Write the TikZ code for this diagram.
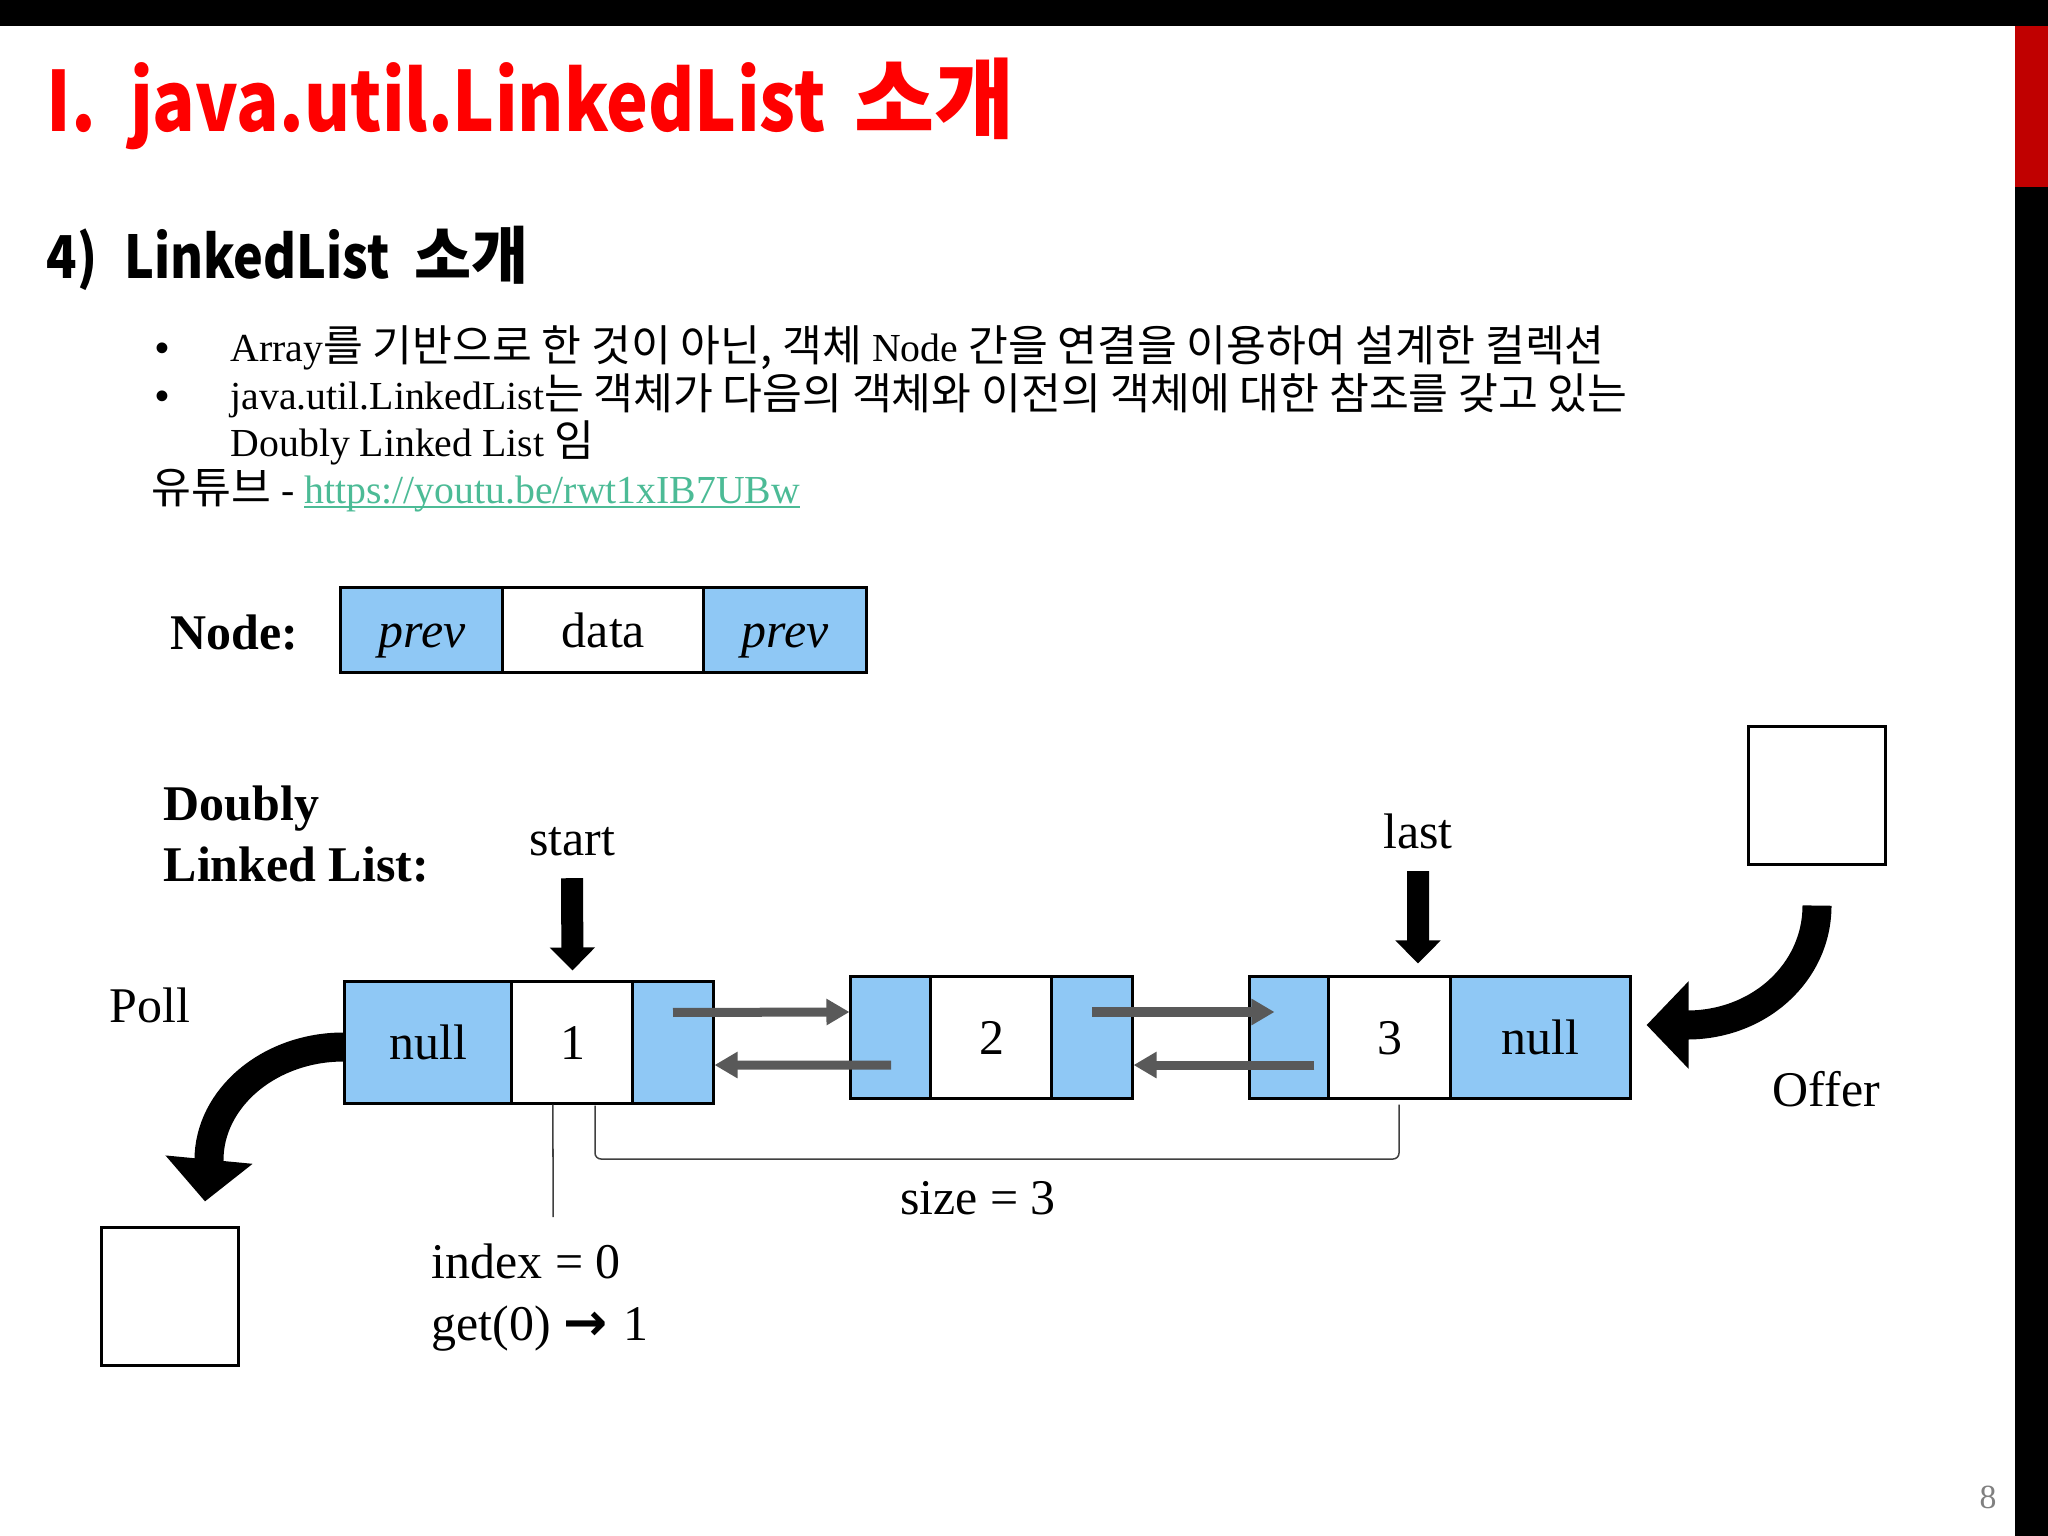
\documentclass[tikz,border=0pt]{standalone}
\usepackage{fontspec}
\setmainfont{Liberation Serif}
\newfontfamily\kr[Scale=1.09]{Noto Sans CJK KR}
\newfontfamily\krt[FakeStretch=0.85]{Noto Sans CJK KR}
\newfontfamily\krh[Scale=1.05]{Noto Sans CJK KR}
\newfontfamily\arr{DejaVu Sans}
\newfontfamily\bulf{Liberation Sans}
\usetikzlibrary{arrows.meta}
\definecolor{nblue}{RGB}{143,200,245}
\definecolor{garr}{RGB}{89,89,89}
\definecolor{titlered}{RGB}{255,0,0}
\definecolor{barred}{RGB}{192,0,0}
\definecolor{linkc}{RGB}{76,187,150}
\definecolor{pgnum}{RGB}{128,128,128}
\newcommand\ulink[1]{\setbox0\hbox{#1}\rlap{\rule[-1.5pt]{\wd0}{0.7pt}}\box0}
\begin{document}
\begin{tikzpicture}[x=0.01cm,y=-0.01cm,
  cell/.style={draw=black, line width=0.3mm, inner sep=0pt, minimum height=1.21cm,
    text height=0.34cm, text depth=0pt, font=\fontsize{14.2}{17}\selectfont},
  bcell/.style={cell, fill=nblue},
  wcell/.style={cell, fill=white},
  emptybox/.style={draw=black, line width=0.3mm, fill=white, inner sep=0pt, minimum width=1.37cm, minimum height=1.37cm},
  lbl/.style={inner sep=0pt, anchor=base west, font=\fontsize{14.2}{17}\selectfont},
  clbl/.style={lbl, anchor=base},
  body/.style={inner sep=0pt, anchor=base west, font=\fontsize{11.3}{13.5}\selectfont},
  garrow/.style={draw=garr, line width=0.9mm, -{Triangle[length=2.3mm,width=2.5mm]}},
  blkarrow/.style={draw=black, line width=2.2mm, -{Triangle[length=2.3mm,width=4.4mm]}},
  curvarrow/.style={draw=black, line width=2.9mm, -{Triangle[length=4.2mm,width=8.5mm]}},
  thinline/.style={draw=black!75, line width=0.15mm}
]
\useasboundingbox (0,0) rectangle (2048,1536);
\fill[white] (0,0) rectangle (2048,1536);
% slide frame
\fill[black] (0,0) rectangle (2048,26);
\fill[barred] (2015,26) rectangle (2048,187);
\fill[black] (2015,187) rectangle (2048,1536);

% titles
\node[inner sep=0pt, anchor=base west, text=titlered, font=\krt\bfseries\fontsize{23.6}{28}\selectfont] (title) at (46,131)
  {I.\hspace{3.4mm}java.util.LinkedList \hspace{1.3mm}{\krh\bfseries 소개}};
\node[inner sep=0pt, anchor=base west, font=\krt\bfseries\fontsize{16.8}{20}\selectfont] (subtitle) at (46,278)
  {4)\hspace{2.7mm}LinkedList \hspace{1.3mm}{\krh\bfseries 소개}};

% bullets
\node[body, font=\bulf\fontsize{11.3}{13.5}\selectfont] (b1) at (155,361) {•};
\node[body] (t1) at (230,361) {Array{\kr 를 기반으로 한 것이 아닌,} {\kr 객체} Node {\kr 간을 연결을 이용하여 설계한 컬렉션}};
\node[body, font=\bulf\fontsize{11.3}{13.5}\selectfont] (b2) at (155,409) {•};
\node[body] (t2) at (230,409) {java.util.LinkedList{\kr 는 객체가 다음의 객체와 이전의 객체에 대한 참조를 갖고 있는}};
\node[body] (t3) at (230,456) {Doubly Linked List {\kr 임}};
\node[body] (t4) at (151,503) {{\kr 유튜브} - \textcolor{linkc}{\ulink{https://youtu.be/rwt1xIB7UBw}}};

% node structure
\node[lbl, font=\bfseries\fontsize{14.2}{17}\selectfont] (nodelbl) at (170,649) {Node:};
\node[bcell, minimum width=1.62cm, minimum height=0.84cm] (p1) at (422,630) {\itshape prev};
\node[wcell, minimum width=2.01cm, minimum height=0.84cm] (p2) at (603.5,630) {data};
\node[bcell, minimum width=1.62cm, minimum height=0.84cm] (p3) at (785,630) {\itshape prev};

% doubly linked list label
\node[lbl, font=\bfseries\fontsize{14.2}{17}\selectfont] (dl1) at (163,820) {Doubly};
\node[lbl, font=\bfseries\fontsize{14.2}{17}\selectfont] (dl2) at (163,881) {Linked List:};

% list nodes
\node[bcell, minimum width=1.67cm] (a1) at (428.5,1042.5) {null};
\node[wcell, minimum width=1.21cm] (a2) at (572.5,1042.5) {1};
\node[bcell, minimum width=0.80cm] (a3) at (673,1042.5) {};

\node[bcell, minimum width=0.80cm] (n1) at (891,1037.5) {};
\node[wcell, minimum width=1.21cm] (n2) at (991.5,1037.5) {2};
\node[bcell, minimum width=0.80cm] (n3) at (1092,1037.5) {};

\node[bcell, minimum width=0.79cm] (c1) at (1289.5,1037.5) {};
\node[wcell, minimum width=1.22cm] (c2) at (1390,1037.5) {3};
\node[bcell, minimum width=1.79cm] (c3) at (1540.5,1037.5) {null};

% links
\draw[garrow] ([yshift=3mm]a3.center) -- ([yshift=2.55mm]n1.west);
\draw[garrow] ([yshift=-2.75mm]n1.center) -- ([yshift=-2.25mm]a3.east);
\draw[garrow] ([yshift=2.55mm]n3.center) -- ([xshift=2.6mm,yshift=2.55mm]c1.west);
\draw[garrow] ([xshift=-1.3mm,yshift=-2.75mm]c2.west) -- ([yshift=-2.75mm]n3.east);

% start / last
\node[clbl] (startlbl) at (572,855) {start};
\draw[blkarrow] ([yshift=-2.2mm]startlbl.south) -- ([yshift=1mm]a2.north);
\node[clbl] (lastlbl) at (1418,848) {last};
\draw[blkarrow] ([yshift=-2.2mm]lastlbl.south) -- ([xshift=2.8mm,yshift=1.2mm]c2.north);

% poll
\node[lbl] (polllbl) at (109,1022) {Poll};
\node[emptybox] (pollbox) at (170,1296.5) {};
\coordinate (pollmid) at (209,1160);
\coordinate (pollend) at ([xshift=3.5mm,yshift=2.5mm]pollbox.north);
\draw[curvarrow] ([yshift=-0.45mm]a1.west) .. controls +(-74,0) and +(0,-62) .. (pollmid) -- (pollend);

% offer
\node[emptybox] (offerbox) at (1817,795.5) {};
\node[lbl] (offerlbl) at (1772,1106) {Offer};
\coordinate (offstart) at ([yshift=-4mm]offerbox.south);
\coordinate (offmid) at (1687,1025);
\coordinate (offend) at ([xshift=1.5mm,yshift=1.25mm]c3.east);
\draw[curvarrow] (offstart) .. controls +(0,67) and +(72,0) .. (offmid) -- (offend);

% index and size
\coordinate (idxend) at (553,1217);
\draw[thinline] ([xshift=-1.95mm]a2.south) -- (idxend);
\draw[thinline, rounded corners=0.6mm] ([xshift=2.25mm,yshift=-0.1mm]a2.south) -- (595,1159) -- (1399,1159) -- ([xshift=0.9mm,yshift=-0.5mm]c2.south);
\node[clbl] (sizelbl) at (978,1214) {size = 3};
\node[lbl] (idxlbl) at (431,1278) {index = 0};
\node[lbl] (getlbl) at (431,1340) {get(0) {\arr\bfseries\fontsize{15}{17}\selectfont →}\hspace{0.3mm} 1};

% page number
\node[inner sep=0pt, anchor=base, text=pgnum, font=\fontsize{9.6}{11}\selectfont] (pg) at (1988,1508) {8};
\end{tikzpicture}
\end{document}
